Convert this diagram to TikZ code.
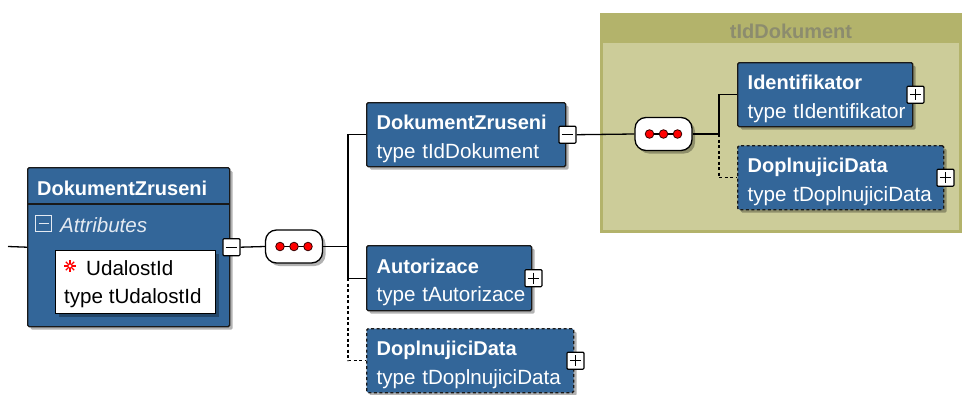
\documentclass[tikz,border=0pt]{standalone}
\usepackage{fontspec}
\setmainfont{Liberation Sans}
\usetikzlibrary{shadows,calc}
\definecolor{xblue}{HTML}{336699}
\definecolor{olivehead}{HTML}{B3B36B}
\definecolor{olivebody}{HTML}{CCCC99}
\definecolor{olivetext}{HTML}{8C8C6E}
\definecolor{attrtext}{HTML}{E4EAF2}
\newcommand\elemtitle{\fontsize{20}{28.5}\selectfont\bfseries}
\newcommand\elemtype{\fontsize{20.6}{28.5}\selectfont\mdseries}
% two-line element label: bold name, then its type
\newcommand\elemlabel[2]{\mbox{\rule{0pt}{23pt}\elemtitle #1}\\\mbox{\elemtype type~#2}}
\tikzset{
  conn/.style={line width=1.3pt, black},
  optconn/.style={conn, dash pattern=on 3pt off 2.5pt},
  shade3/.style={drop shadow={shadow xshift=3pt, shadow yshift=-3pt, opacity=0.3, fill=black}},
  elem/.style={draw=black!90, fill=xblue, line width=1.4pt, rounded corners=1.5pt,
    text=white, align=left, inner xsep=10pt, inner ysep=0pt, anchor=north west, shade3,
    font=\fontsize{20}{28.5}\selectfont},
  optelem/.style={elem, dash pattern=on 3pt off 2.5pt},
  pmbox/.style={draw=black, fill=white, line width=1.2pt, rounded corners=1pt,
    minimum size=17pt, inner sep=0pt},
  minusbox/.style={pmbox, path picture={
    \draw[line width=1.4pt] ([xshift=3pt]path picture bounding box.west) -- ([xshift=-3pt]path picture bounding box.east);}},
  plusbox/.style={pmbox, path picture={
    \draw[line width=1.4pt] ([xshift=3pt]path picture bounding box.west) -- ([xshift=-3pt]path picture bounding box.east);
    \draw[line width=1.4pt] ([yshift=-3pt]path picture bounding box.north) -- ([yshift=3pt]path picture bounding box.south);}},
  seqbox/.style={draw=black, fill=white, line width=1.3pt, rounded corners=11pt,
    minimum width=57pt, minimum height=33pt, inner sep=0pt, shade3, path picture={
    \coordinate (c) at (path picture bounding box.center);
    \draw[line width=1.2pt] ($(c)+(-14pt,0)$) -- ($(c)+(14pt,0)$);
    \foreach \dx in {-14pt,0pt,14pt}
      \filldraw[fill=red, draw=black!80!red, line width=0.8pt] ($(c)+(\dx,0)$) circle (4.3pt);}},
}
\begin{document}
\begin{tikzpicture}[x=1pt, y=-1pt]
  \fill[white] (0,0) rectangle (965,394);
  \useasboundingbox (0,0) rectangle (965,394);

  % complex type group
  \fill[olivehead] (600,13) rectangle (962,233);
  \fill[olivebody] (603,43) rectangle (959,230);
  \node[anchor=base, text=olivetext, inner sep=0pt] (grouptitle) at (791,38) {\elemtitle tIdDokument};

  % root element with attributes
  \node[elem, minimum width=202pt, minimum height=159pt] (main) at (27,167) {};
  \draw[line width=1.4pt, black!90] (27,204) -- (229,204);
  \node[anchor=base west, text=white, inner sep=0pt] (maintitle) at (37,195) {\elemtitle DokumentZruseni};
  \node[draw=attrtext, fill=xblue, line width=1.1pt, minimum size=16pt, inner sep=0pt,
        path picture={\draw[attrtext, line width=1.3pt] ([xshift=3pt]path picture bounding box.west) -- ([xshift=-3pt]path picture bounding box.east);}]
        (attrtoggle) at (43.5,223.5) {};
  \node[anchor=base west, text=attrtext, inner sep=0pt] (attrlabel) at (60,232) {\elemtype\itshape Attributes};
  \node[draw=black, fill=white, line width=1.2pt, minimum width=160pt, minimum height=63pt,
        anchor=north west, shade3] (attr) at (55,250) {};
  \foreach \a in {0,45,90,135}
    \draw[red, line width=1.3pt] (70,266) ++(\a:6pt) -- ++(\a+180:12pt);
  \fill[white] (70,266) circle (1.6pt);
  \node[anchor=base west, inner sep=0pt] (attrname) at (86,275) {\elemtype UdalostId};
  \node[anchor=base west, inner sep=0pt] (attrtype) at (64,303) {\elemtype type~tUdalostId};

  % child elements
  \node[elem, minimum width=199pt, minimum height=64pt, text width=179pt] (dz) at (366,102)
    {\elemlabel{DokumentZruseni}{tIdDokument}};
  \node[elem, minimum width=165pt, minimum height=65pt, text width=145pt] (aut) at (366,245)
    {\elemlabel{Autorizace}{tAutorizace}};
  \node[optelem, minimum width=207pt, minimum height=64pt, text width=187pt] (dop) at (366,328)
    {\elemlabel{DoplnujiciData}{tDoplnujiciData}};

  % elements of tIdDokument
  \node[elem, minimum width=175pt, minimum height=64pt, text width=155pt] (iden) at (737,62)
    {\elemlabel{Identifikator}{tIdentifikator}};
  \node[optelem, minimum width=206pt, minimum height=64pt, text width=186pt] (dop2) at (737,145)
    {\elemlabel{DoplnujiciData}{tDoplnujiciData}};

  % expand / collapse toggles
  \node[minusbox] (mmain) at ([xshift=1pt]main.east) {};
  \node[minusbox] (mdz) at ([xshift=1pt]dz.east) {};
  \node[plusbox] (paut) at ([xshift=1pt]aut.east) {};
  \node[plusbox] (pdop) at ([xshift=1pt]dop.east) {};
  \node[plusbox] (piden) at ([xshift=2pt]iden.east) {};
  \node[plusbox] (pdop2) at ([xshift=1pt]dop2.east) {};

  % sequence compositors
  \node[seqbox] (seq1) at (294,246.5) {};
  \node[seqbox] (seq2) at (663.5,134) {};

  % connectors
  \coordinate (src) at (8,246.5);
  \draw[conn] (src) -- (main.west);
  \draw[conn] (mmain.east) -- (seq1.west);
  \coordinate (j1) at (348,246.5);
  \draw[conn] (seq1.east) -- (j1);
  \draw[conn] (j1) |- (dz.west);
  \draw[conn] (j1) |- (aut.west);
  \draw[optconn] (j1 |- aut.west) |- (dop.west);

  \draw[conn] (mdz.east) -- (seq2.west);
  \coordinate (j2) at (719,134);
  \draw[conn] (seq2.east) -- (j2);
  \draw[conn] (j2) |- (iden.west);
  \draw[optconn] (j2) |- (dop2.west);
\end{tikzpicture}
\end{document}
